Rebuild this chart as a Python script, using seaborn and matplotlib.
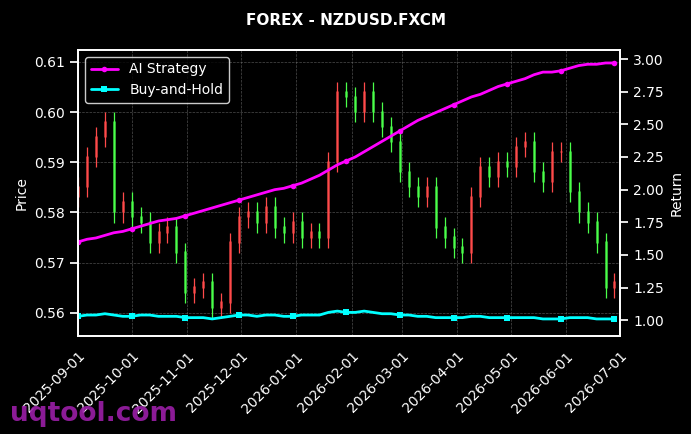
import pandas as pd
import matplotlib
matplotlib.use("Agg")
import matplotlib.pyplot as plt
import matplotlib.dates as mdates
import seaborn as sns

dates = pd.date_range("2025-09-01", periods=61, freq="5D")
closes = [0.585, 0.591, 0.595, 0.598, 0.580, 0.582, 0.579, 0.578, 0.574, 0.576,
          0.577, 0.572, 0.564, 0.565, 0.566, 0.561, 0.562, 0.574, 0.579, 0.580,
          0.578, 0.581, 0.577, 0.576, 0.578, 0.575, 0.576, 0.575, 0.590, 0.604,
          0.603, 0.600, 0.604, 0.600, 0.597, 0.594, 0.588, 0.585, 0.583, 0.585,
          0.577, 0.575, 0.573, 0.572, 0.583, 0.589, 0.587, 0.590, 0.589, 0.593,
          0.594, 0.588, 0.586, 0.592, 0.592, 0.584, 0.580, 0.578, 0.574, 0.565,
          0.566]
ai_return = [1.60, 1.62, 1.63, 1.65, 1.67, 1.68, 1.70, 1.72, 1.74, 1.76, 1.77, 1.78,
             1.80, 1.82, 1.84, 1.86, 1.88, 1.90, 1.92, 1.94, 1.96, 1.98, 2.00, 2.01,
             2.03, 2.05, 2.08, 2.11, 2.15, 2.19, 2.22, 2.25, 2.29, 2.33, 2.37, 2.41,
             2.45, 2.49, 2.53, 2.56, 2.59, 2.62, 2.65, 2.68, 2.71, 2.73, 2.76, 2.79,
             2.81, 2.83, 2.85, 2.88, 2.90, 2.90, 2.91, 2.93, 2.95, 2.96, 2.96, 2.97,
             2.97]
bh_return = [1.03, 1.04, 1.04, 1.05, 1.04, 1.03, 1.03, 1.04, 1.04, 1.03, 1.03, 1.03,
             1.02, 1.02, 1.02, 1.01, 1.02, 1.03, 1.04, 1.04, 1.03, 1.04, 1.04, 1.03,
             1.03, 1.04, 1.04, 1.04, 1.06, 1.07, 1.06, 1.06, 1.07, 1.06, 1.05, 1.05,
             1.04, 1.04, 1.03, 1.03, 1.02, 1.02, 1.02, 1.02, 1.03, 1.03, 1.02, 1.02,
             1.02, 1.02, 1.02, 1.02, 1.01, 1.01, 1.01, 1.02, 1.02, 1.02, 1.01, 1.01,
             1.01]

df = pd.DataFrame({"date": dates, "close": closes, "ai": ai_return, "bh": bh_return})
df["open"] = df["close"].shift(1).fillna(df["close"].iloc[0] - 0.002)

sns.set_theme(style="dark")
plt.rcParams["font.family"] = ["DejaVu Sans"]

fig = plt.figure(figsize=(6.91, 4.34), dpi=100, facecolor="black")
ax = fig.add_axes([0.113, 0.226, 0.784, 0.659])
ax.set_facecolor("black")

# candles (red = rising, green = falling, like the original)
for _, r in df.iterrows():
    up = r["close"] >= r["open"]
    col = "#ff4a4a" if up else "#4aff4a"
    lo, hi = min(r["open"], r["close"]), max(r["open"], r["close"])
    ax.vlines(r["date"], lo - 0.002, hi + 0.002, color=col, linewidth=0.9)
    ax.vlines(r["date"], lo, hi + 0.0003, color=col, linewidth=1.8, alpha=0.85)

ax.set_ylim(0.5554, 0.6124)
ax.set_xlim(pd.Timestamp("2025-09-01"), pd.Timestamp("2026-07-01"))
ax.set_ylabel("Price", color="white", fontsize=10)
ax.grid(True, color="gray", linestyle="--", linewidth=0.5, alpha=0.6)

ax2 = ax.twinx()
sns.lineplot(data=df, x="date", y="ai", ax=ax2, color="magenta", linewidth=2,
             marker="o", markersize=4, markevery=6, markeredgewidth=0, label="AI Strategy")
sns.lineplot(data=df, x="date", y="bh", ax=ax2, color="cyan", linewidth=2,
             marker="s", markersize=4, markevery=6, markeredgewidth=0, label="Buy-and-Hold")
ax2.set_ylim(0.88, 3.07)
ax2.set_ylabel("Return", color="white", fontsize=10)
ax2.set_xlabel("")
ax2.legend(loc="upper left", facecolor="black", edgecolor="white", labelcolor="white",
           fontsize=10)

ax.xaxis.set_major_locator(mdates.MonthLocator())
ax.xaxis.set_major_formatter(mdates.DateFormatter("%Y-%m-%d"))
for a in (ax, ax2):
    a.tick_params(colors="white", labelsize=10)
    for s in a.spines.values():
        s.set_color("white")
plt.setp(ax.get_xticklabels(), rotation=45, ha="right", rotation_mode="anchor")

fig.suptitle("FOREX - NZDUSD.FXCM", color="white", fontweight="bold", fontsize=11, y=0.97)
fig.text(0.015, 0.03, "uqtool.com", color="#9b1fa8", fontsize=19, fontweight="bold", alpha=0.9)

fig.savefig("out.png", dpi=100, facecolor="black")
